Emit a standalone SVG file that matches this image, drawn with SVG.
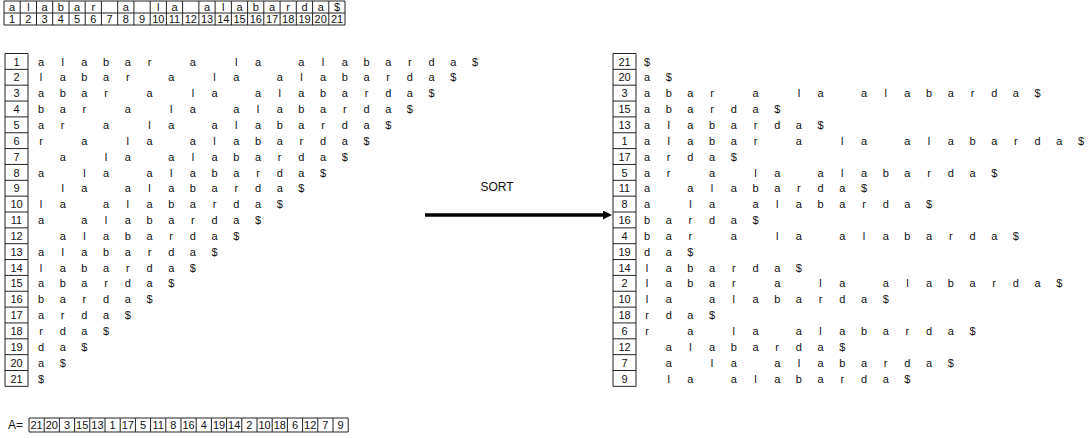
<svg xmlns="http://www.w3.org/2000/svg" xmlns:xlink="http://www.w3.org/1999/xlink" width="1091" height="439" viewBox="0 0 1091 439">
<style>
text{font-family:"Liberation Sans",Arial,sans-serif;font-size:11px;fill:#111;text-anchor:middle}
.sort{font-size:12px}
.box{fill:none;stroke:#222;stroke-width:1}
.lbl{text-anchor:start;font-size:12px}
</style>
<defs>
<marker id="ah" markerUnits="userSpaceOnUse" viewBox="0 0 10 10" markerWidth="9" markerHeight="9" refX="3.3" refY="5" orient="auto"><path d="M0,0 L10,5 L0,10 z" fill="#000"/></marker>
<text id="s1" x="0 21.7 43.4 65.1 86.8 108.5 151.9 195.3 217 260.4 282.1 303.8 325.5 347.2 368.9 390.6 412.3 434" y="0">alabaralaalabarda$</text>
<text id="s2" x="0 21.7 43.4 65.1 86.8 130.2 173.6 195.3 238.7 260.4 282.1 303.8 325.5 347.2 368.9 390.6 412.3" y="0">labaralaalabarda$</text>
<text id="s3" x="0 21.7 43.4 65.1 108.5 151.9 173.6 217 238.7 260.4 282.1 303.8 325.5 347.2 368.9 390.6" y="0">abaralaalabarda$</text>
<text id="s4" x="0 21.7 43.4 86.8 130.2 151.9 195.3 217 238.7 260.4 282.1 303.8 325.5 347.2 368.9" y="0">baralaalabarda$</text>
<text id="s5" x="0 21.7 65.1 108.5 130.2 173.6 195.3 217 238.7 260.4 282.1 303.8 325.5 347.2" y="0">aralaalabarda$</text>
<text id="s6" x="0 43.4 86.8 108.5 151.9 173.6 195.3 217 238.7 260.4 282.1 303.8 325.5" y="0">ralaalabarda$</text>
<text id="s7" x="21.7 65.1 86.8 130.2 151.9 173.6 195.3 217 238.7 260.4 282.1 303.8" y="0">alaalabarda$</text>
<text id="s8" x="0 43.4 65.1 108.5 130.2 151.9 173.6 195.3 217 238.7 260.4 282.1" y="0">alaalabarda$</text>
<text id="s9" x="21.7 43.4 86.8 108.5 130.2 151.9 173.6 195.3 217 238.7 260.4" y="0">laalabarda$</text>
<text id="s10" x="0 21.7 65.1 86.8 108.5 130.2 151.9 173.6 195.3 217 238.7" y="0">laalabarda$</text>
<text id="s11" x="0 43.4 65.1 86.8 108.5 130.2 151.9 173.6 195.3 217" y="0">aalabarda$</text>
<text id="s12" x="21.7 43.4 65.1 86.8 108.5 130.2 151.9 173.6 195.3" y="0">alabarda$</text>
<text id="s13" x="0 21.7 43.4 65.1 86.8 108.5 130.2 151.9 173.6" y="0">alabarda$</text>
<text id="s14" x="0 21.7 43.4 65.1 86.8 108.5 130.2 151.9" y="0">labarda$</text>
<text id="s15" x="0 21.7 43.4 65.1 86.8 108.5 130.2" y="0">abarda$</text>
<text id="s16" x="0 21.7 43.4 65.1 86.8 108.5" y="0">barda$</text>
<text id="s17" x="0 21.7 43.4 65.1 86.8" y="0">arda$</text>
<text id="s18" x="0 21.7 43.4 65.1" y="0">rda$</text>
<text id="s19" x="0 21.7 43.4" y="0">da$</text>
<text id="s20" x="0 21.7" y="0">a$</text>
<text id="s21" x="0" y="0">$</text>
</defs>

<g id="string-array">
<path class="box" d="M4,1H345V25H4Z M4,13H345 M20.2,1V25 M36.5,1V25 M52.7,1V25 M69,1V25 M85.2,1V25 M101.4,1V25 M117.7,1V25 M133.9,1V25 M150.2,1V25 M166.4,1V25 M182.6,1V25 M198.9,1V25 M215.1,1V25 M231.4,1V25 M247.6,1V25 M263.8,1V25 M280.1,1V25 M296.3,1V25 M312.6,1V25 M328.8,1V25"/>
<text x="12.1 28.4 44.6 60.8 77.1 93.3 125.8 158.3 174.5 207 223.3 239.5 255.8 272 288.2 304.5 320.7 337" y="11">alabaralaalabarda$</text>
<text x="12.1" y="23">1</text><text x="28.4" y="23">2</text><text x="44.6" y="23">3</text><text x="60.8" y="23">4</text><text x="77.1" y="23">5</text><text x="93.3" y="23">6</text><text x="109.6" y="23">7</text><text x="125.8" y="23">8</text><text x="142.1" y="23">9</text><text x="158.3" y="23">10</text><text x="174.5" y="23">11</text><text x="190.8" y="23">12</text><text x="207" y="23">13</text><text x="223.3" y="23">14</text><text x="239.5" y="23">15</text><text x="255.8" y="23">16</text><text x="272" y="23">17</text><text x="288.2" y="23">18</text><text x="304.5" y="23">19</text><text x="320.7" y="23">20</text><text x="337" y="23">21</text>
</g>

<g id="suffixes">
<path class="box" d="M5,53.5H28V386.35H5Z M5,69.35H28 M5,85.2H28 M5,101.05H28 M5,116.9H28 M5,132.75H28 M5,148.6H28 M5,164.45H28 M5,180.3H28 M5,196.15H28 M5,212H28 M5,227.85H28 M5,243.7H28 M5,259.55H28 M5,275.4H28 M5,291.25H28 M5,307.1H28 M5,322.95H28 M5,338.8H28 M5,354.65H28 M5,370.5H28"/>
<g>
<text x="16.5" y="65.5">1</text><text x="16.5" y="81.4">2</text><text x="16.5" y="97.2">3</text><text x="16.5" y="113.1">4</text><text x="16.5" y="128.9">5</text><text x="16.5" y="144.8">6</text><text x="16.5" y="160.6">7</text><text x="16.5" y="176.5">8</text><text x="16.5" y="192.3">9</text><text x="16.5" y="208.2">10</text><text x="16.5" y="224">11</text><text x="16.5" y="239.9">12</text><text x="16.5" y="255.7">13</text><text x="16.5" y="271.6">14</text><text x="16.5" y="287.4">15</text><text x="16.5" y="303.3">16</text><text x="16.5" y="319.1">17</text><text x="16.5" y="335">18</text><text x="16.5" y="350.8">19</text><text x="16.5" y="366.7">20</text><text x="16.5" y="382.5">21</text>
</g>
<g>
<use xlink:href="#s1" x="41" y="65.5"/><use xlink:href="#s2" x="41" y="81.4"/><use xlink:href="#s3" x="41" y="97.2"/><use xlink:href="#s4" x="41" y="113.1"/><use xlink:href="#s5" x="41" y="128.9"/><use xlink:href="#s6" x="41" y="144.8"/><use xlink:href="#s7" x="41" y="160.6"/><use xlink:href="#s8" x="41" y="176.5"/><use xlink:href="#s9" x="41" y="192.3"/><use xlink:href="#s10" x="41" y="208.2"/><use xlink:href="#s11" x="41" y="224"/><use xlink:href="#s12" x="41" y="239.9"/><use xlink:href="#s13" x="41" y="255.7"/><use xlink:href="#s14" x="41" y="271.6"/><use xlink:href="#s15" x="41" y="287.4"/><use xlink:href="#s16" x="41" y="303.3"/><use xlink:href="#s17" x="41" y="319.1"/><use xlink:href="#s18" x="41" y="335"/><use xlink:href="#s19" x="41" y="350.8"/><use xlink:href="#s20" x="41" y="366.7"/><use xlink:href="#s21" x="41" y="382.5"/>
</g>
</g>

<g id="connectors">
<line x1="425" y1="215" x2="606" y2="215" stroke="#000" stroke-width="3.5" marker-end="url(#ah)"/>
<text class="sort" x="497" y="191">SORT</text>
</g>

<g id="sorted-suffixes">
<path class="box" d="M613,53.5H636V386.35H613Z M613,69.35H636 M613,85.2H636 M613,101.05H636 M613,116.9H636 M613,132.75H636 M613,148.6H636 M613,164.45H636 M613,180.3H636 M613,196.15H636 M613,212H636 M613,227.85H636 M613,243.7H636 M613,259.55H636 M613,275.4H636 M613,291.25H636 M613,307.1H636 M613,322.95H636 M613,338.8H636 M613,354.65H636 M613,370.5H636"/>
<g>
<text x="624.5" y="65.5">21</text><text x="624.5" y="81.4">20</text><text x="624.5" y="97.2">3</text><text x="624.5" y="113.1">15</text><text x="624.5" y="128.9">13</text><text x="624.5" y="144.8">1</text><text x="624.5" y="160.6">17</text><text x="624.5" y="176.5">5</text><text x="624.5" y="192.3">11</text><text x="624.5" y="208.2">8</text><text x="624.5" y="224">16</text><text x="624.5" y="239.9">4</text><text x="624.5" y="255.7">19</text><text x="624.5" y="271.6">14</text><text x="624.5" y="287.4">2</text><text x="624.5" y="303.3">10</text><text x="624.5" y="319.1">18</text><text x="624.5" y="335">6</text><text x="624.5" y="350.8">12</text><text x="624.5" y="366.7">7</text><text x="624.5" y="382.5">9</text>
</g>
<g>
<use xlink:href="#s21" x="647" y="65.5"/><use xlink:href="#s20" x="647" y="81.4"/><use xlink:href="#s3" x="647" y="97.2"/><use xlink:href="#s15" x="647" y="113.1"/><use xlink:href="#s13" x="647" y="128.9"/><use xlink:href="#s1" x="647" y="144.8"/><use xlink:href="#s17" x="647" y="160.6"/><use xlink:href="#s5" x="647" y="176.5"/><use xlink:href="#s11" x="647" y="192.3"/><use xlink:href="#s8" x="647" y="208.2"/><use xlink:href="#s16" x="647" y="224"/><use xlink:href="#s4" x="647" y="239.9"/><use xlink:href="#s19" x="647" y="255.7"/><use xlink:href="#s14" x="647" y="271.6"/><use xlink:href="#s2" x="647" y="287.4"/><use xlink:href="#s10" x="647" y="303.3"/><use xlink:href="#s18" x="647" y="319.1"/><use xlink:href="#s6" x="647" y="335"/><use xlink:href="#s12" x="647" y="350.8"/><use xlink:href="#s7" x="647" y="366.7"/><use xlink:href="#s9" x="647" y="382.5"/>
</g>
</g>

<g id="suffix-array">
<text class="lbl" x="8" y="429">A=</text>
<path class="box" d="M29,418H348.2V432H29Z M44.2,418V432 M59.4,418V432 M74.6,418V432 M89.8,418V432 M105,418V432 M120.2,418V432 M135.4,418V432 M150.6,418V432 M165.8,418V432 M181,418V432 M196.2,418V432 M211.4,418V432 M226.6,418V432 M241.8,418V432 M257,418V432 M272.2,418V432 M287.4,418V432 M302.6,418V432 M317.8,418V432 M333,418V432"/>
<text x="36.6" y="429">21</text><text x="51.8" y="429">20</text><text x="67" y="429">3</text><text x="82.2" y="429">15</text><text x="97.4" y="429">13</text><text x="112.6" y="429">1</text><text x="127.8" y="429">17</text><text x="143" y="429">5</text><text x="158.2" y="429">11</text><text x="173.4" y="429">8</text><text x="188.6" y="429">16</text><text x="203.8" y="429">4</text><text x="219" y="429">19</text><text x="234.2" y="429">14</text><text x="249.4" y="429">2</text><text x="264.6" y="429">10</text><text x="279.8" y="429">18</text><text x="295" y="429">6</text><text x="310.2" y="429">12</text><text x="325.4" y="429">7</text><text x="340.6" y="429">9</text>
</g>
</svg>
